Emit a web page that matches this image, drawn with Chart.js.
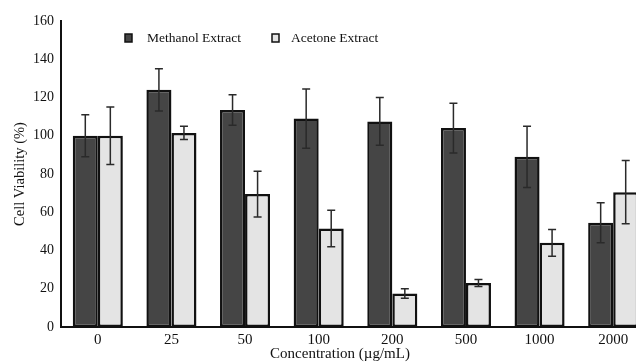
<!DOCTYPE html>
<html>
<head>
<meta charset="utf-8">
<script src="https://cdn.jsdelivr.net/npm/chart.js@4.4.0/dist/chart.umd.min.js"></script>
<style>
  html, body { margin: 0; padding: 0; background: #fff; overflow: hidden; }
  #wrap { width: 662px; height: 362px; }
</style>
</head>
<body>
<div id="wrap"><canvas id="chartViability"></canvas></div>
<script>
const concentrations = ["0", "25", "50", "100", "200", "500", "1000", "2000"];
const methanolMean = [100, 124, 113.5, 109, 107.5, 104, 89, 54.5];
const methanolSd = [11, 11, 8, 15.5, 12.5, 13, 16, 10.5];
const acetoneMean = [100, 101.5, 69.5, 51.5, 17.5, 23, 44, 70.5];
const acetoneSd = [15, 3.5, 12, 9.5, 2.5, 1.8, 7, 16.5];

const serif = "'Liberation Serif', 'DejaVu Serif', serif";

// error bars drawn on top of the bars
const errorBars = {
  id: "errorBars",
  afterDatasetsDraw(chart) {
    const { ctx, scales: { y } } = chart;
    const sds = [methanolSd, acetoneSd];
    ctx.save();
    ctx.strokeStyle = "#2a2a2a";
    ctx.lineWidth = 1.5;
    chart.data.datasets.forEach((ds, i) => {
      chart.getDatasetMeta(i).data.forEach((bar, j) => {
        const v = ds.data[j], sd = sds[i][j];
        const top = y.getPixelForValue(v + sd);
        const bot = y.getPixelForValue(v - sd);
        ctx.beginPath();
        ctx.moveTo(bar.x, top); ctx.lineTo(bar.x, bot);
        ctx.moveTo(bar.x - 4, top); ctx.lineTo(bar.x + 4, top);
        ctx.moveTo(bar.x - 4, bot); ctx.lineTo(bar.x + 4, bot);
        ctx.stroke();
      });
    });
    ctx.restore();
  }
};

// legend inside the plot (left of centre) and the x title, which sits off-centre in the original
const extraText = {
  id: "extraText",
  afterDraw(chart) {
    const { ctx } = chart;
    const items = [
      { label: "Methanol Extract", fill: "#454545", x: 125, tx: 147 },
      { label: "Acetone Extract", fill: "#e4e4e4", x: 272, tx: 291 }
    ];
    ctx.save();
    ctx.font = "13.5px " + serif;
    ctx.textBaseline = "middle";
    items.forEach(it => {
      ctx.fillStyle = it.fill;
      ctx.strokeStyle = "#111";
      ctx.lineWidth = 1.5;
      ctx.fillRect(it.x, 34, 7, 8);
      ctx.strokeRect(it.x, 34, 7, 8);
      ctx.fillStyle = "#111";
      ctx.fillText(it.label, it.tx, 38);
    });
    ctx.font = "15px " + serif;
    ctx.textAlign = "center";
    ctx.fillText("Concentration (µg/mL)", 340, 354);
    ctx.restore();
  }
};

const ctx = document.getElementById("chartViability").getContext("2d");
new Chart(ctx, {
  type: "bar",
  data: {
    labels: concentrations,
    datasets: [
      {
        label: "Methanol Extract",
        data: methanolMean,
        backgroundColor: "#454545",
        borderColor: "#111",
        borderWidth: 2.5,
        borderSkipped: false,
        categoryPercentage: 0.68,
        barPercentage: 1.0
      },
      {
        label: "Acetone Extract",
        data: acetoneMean,
        backgroundColor: "#e4e4e4",
        borderColor: "#111",
        borderWidth: 2.5,
        borderSkipped: false,
        categoryPercentage: 0.68,
        barPercentage: 1.0
      }
    ]
  },
  options: {
    responsive: true,
    maintainAspectRatio: false,
    animation: false,
    layout: { padding: { top: 21, right: 12, left: 0, bottom: 0 } },
    plugins: { legend: { display: false }, tooltip: { enabled: false } },
    scales: {
      x: {
        grid: { display: false, drawTicks: false },
        border: { display: true, color: "#111", width: 2 },
        ticks: { color: "#111", font: { family: serif, size: 15 }, padding: 4 },
        afterFit: s => { s.height = 35; }
      },
      y: {
        min: 0, max: 160,
        grid: { display: false, drawTicks: false },
        border: { display: true, color: "#111", width: 2 },
        ticks: { stepSize: 20, color: "#111", font: { family: serif, size: 14 }, padding: 7 },
        title: { display: true, text: "Cell Viability (%)", color: "#111",
                 font: { family: serif, size: 14.5 }, padding: { top: 11, bottom: 0 } },
        afterFit: s => { s.width = 61; }
      }
    }
  },
  plugins: [errorBars, extraText]
});
</script>
</body>
</html>
